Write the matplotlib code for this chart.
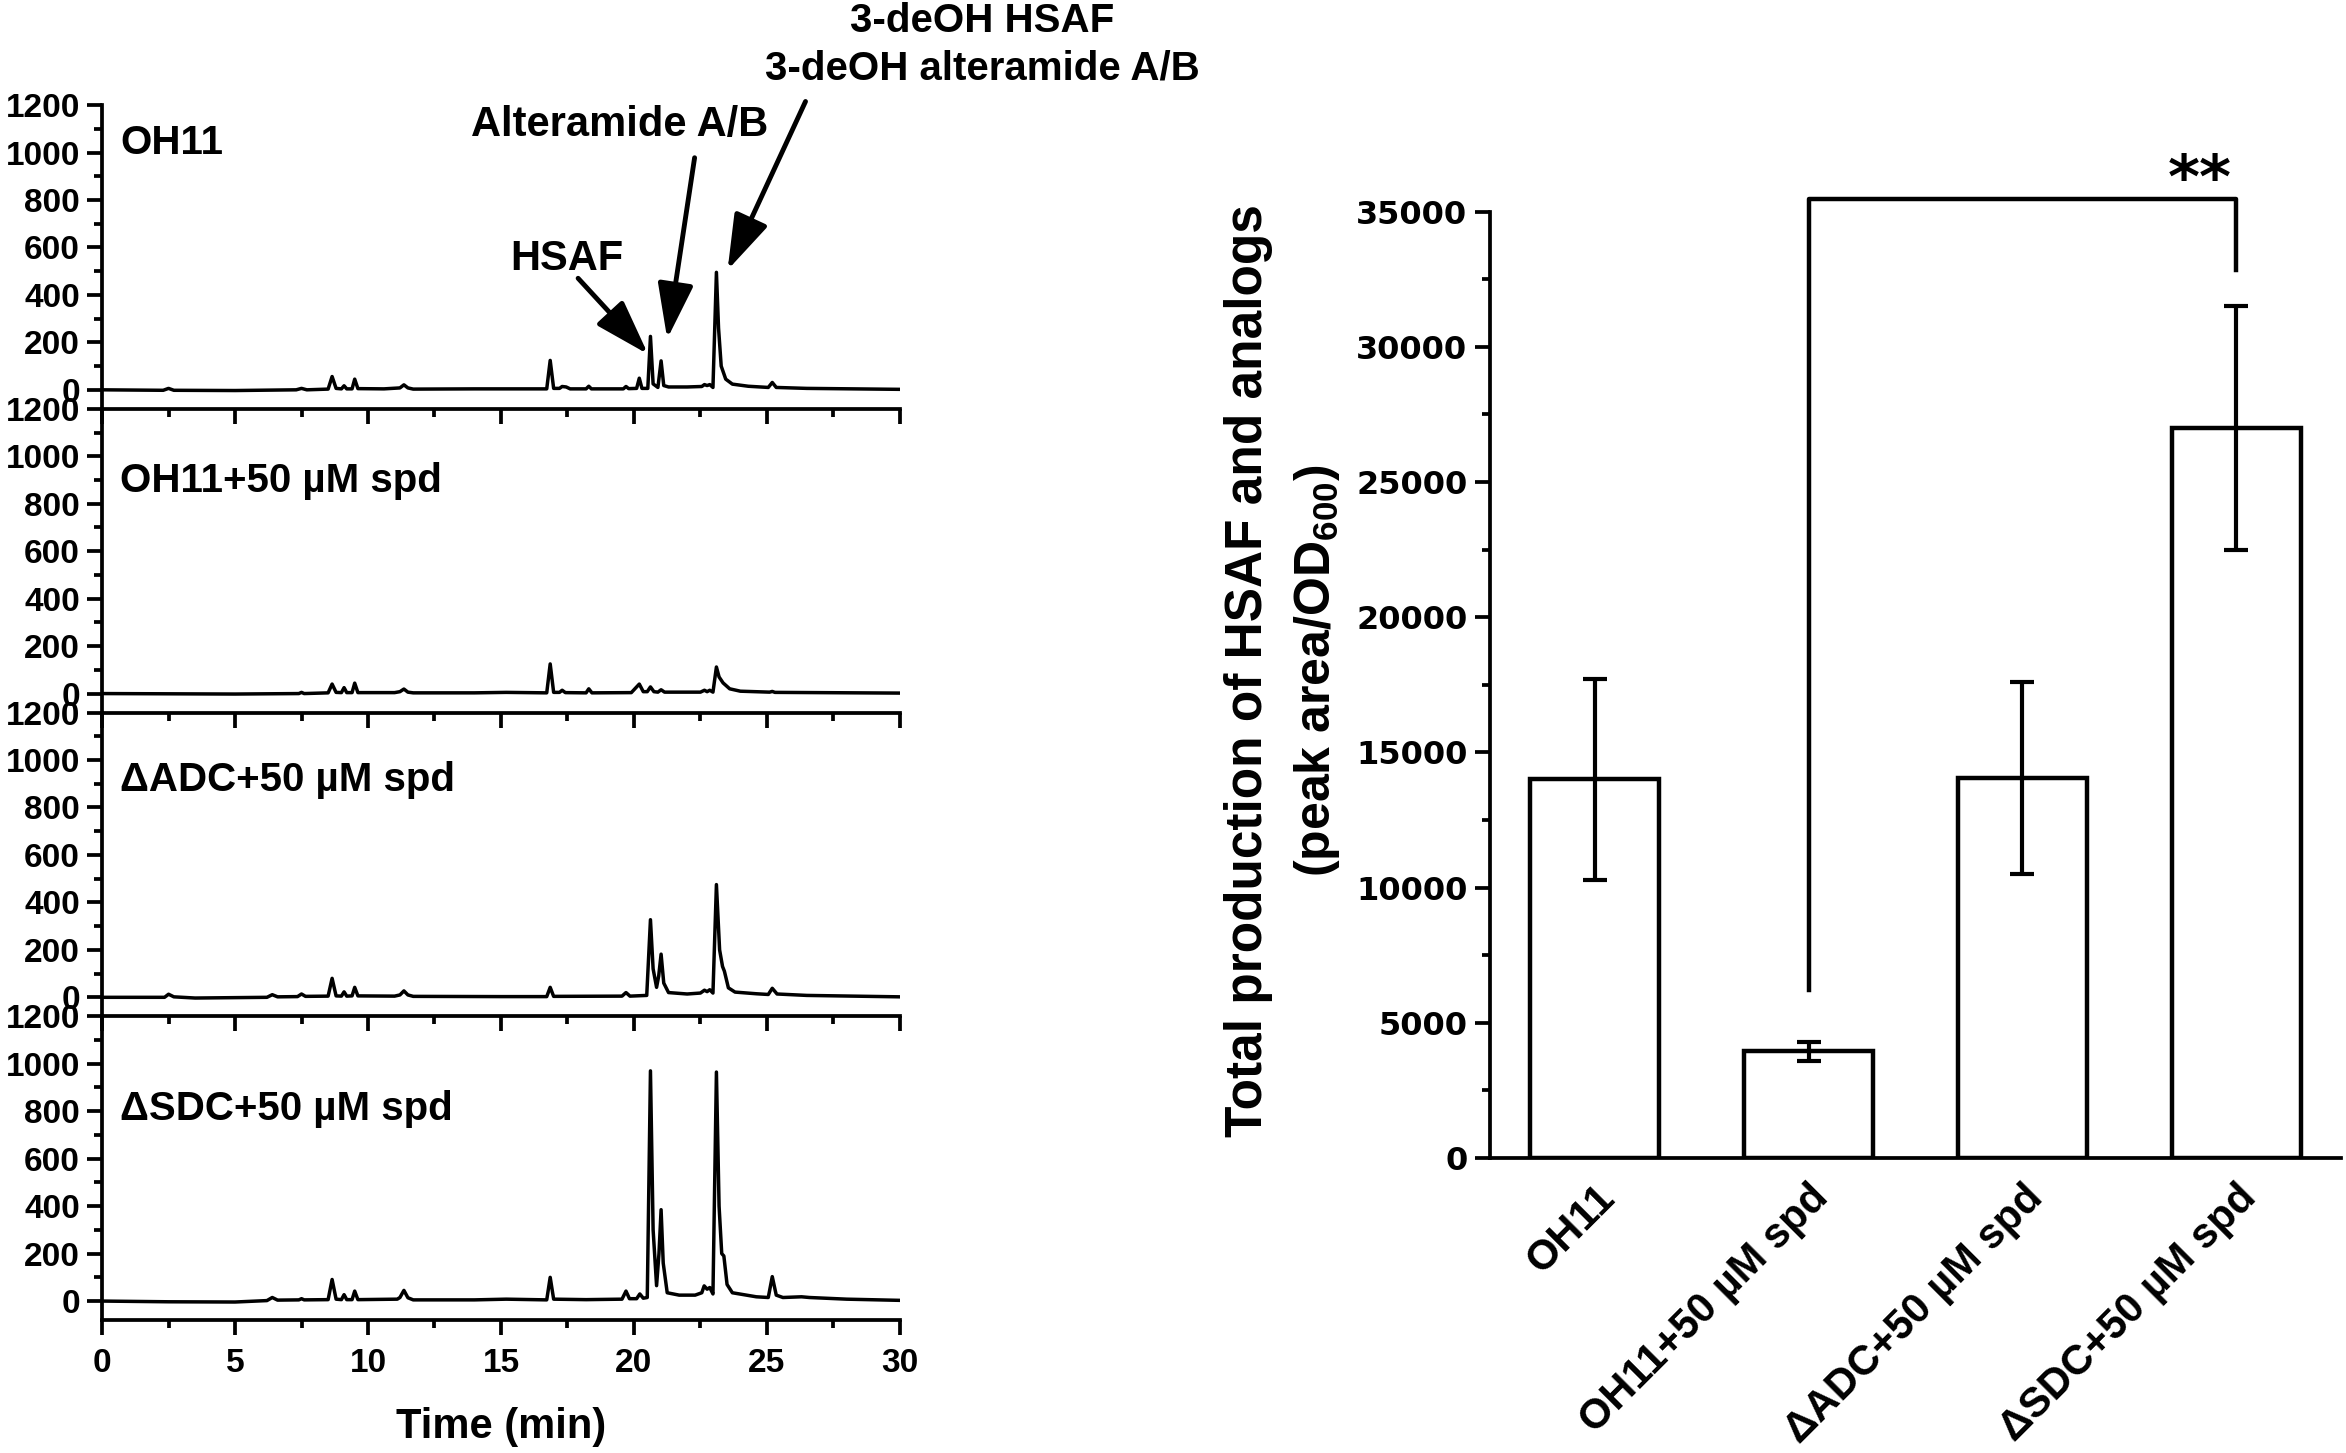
import matplotlib
matplotlib.use('Agg')
import matplotlib.pyplot as plt
from matplotlib.ticker import MultipleLocator

plt.rcParams['font.family'] = ['Liberation Sans', 'DejaVu Sans']
plt.rcParams['font.weight'] = 'bold'
plt.rcParams['mathtext.default'] = 'regular'

# HPLC traces: (retention time in min, signal)
oh11 = [(0.0, 0), (2.3, -2), (2.5, 6), (2.7, -2), (5.0, -3), (7.3, 0), (7.5, 6), (7.7, 0),
        (8.5, 3), (8.65, 56), (8.8, 6), (9.0, 4), (9.1, 17), (9.2, 4), (9.4, 4), (9.5, 45), (9.62, 5),
        (10.6, 4), (11.2, 8), (11.35, 21), (11.5, 8), (11.7, 3), (14.0, 4), (16.72, 4), (16.85, 124),
        (16.98, 6), (17.2, 6), (17.3, 14), (17.45, 12), (17.6, 4), (18.2, 4), (18.3, 15), (18.4, 4),
        (19.6, 4), (19.7, 14), (19.8, 5), (20.1, 6), (20.2, 49), (20.3, 6), (20.52, 6), (20.62, 225),
        (20.72, 25), (20.9, 10), (21.02, 122), (21.12, 18), (21.3, 12), (22.0, 12), (22.55, 14),
        (22.65, 22), (22.75, 18), (22.85, 22), (22.97, 10), (23.1, 495), (23.18, 260), (23.28, 100),
        (23.45, 45), (23.7, 24), (24.3, 15), (25.05, 10), (25.2, 31), (25.35, 10), (26.5, 6), (30.0, 2)]

oh11_spd = [(0.0, 0), (5.0, -2), (7.4, 0), (7.5, 5), (7.6, 0), (8.5, 3), (8.65, 40), (8.8, 5),
            (9.0, 4), (9.1, 25), (9.2, 4), (9.4, 4), (9.5, 44), (9.62, 4), (11.0, 4), (11.2, 8),
            (11.35, 19), (11.5, 6), (11.7, 3), (14.0, 3), (15.2, 5), (16.72, 3), (16.85, 125),
            (16.98, 5), (17.2, 5), (17.3, 14), (17.42, 4), (18.2, 3), (18.3, 20), (18.42, 3),
            (19.9, 4), (20.2, 40), (20.35, 8), (20.5, 8), (20.62, 28), (20.75, 8), (20.9, 6),
            (21.02, 16), (21.15, 6), (22.5, 6), (22.65, 14), (22.75, 8), (22.85, 14), (22.97, 6),
            (23.1, 112), (23.2, 70), (23.35, 45), (23.6, 20), (24.0, 10), (25.1, 6), (25.2, 9),
            (25.3, 5), (30.0, 2)]

adc_spd = [(0.0, 0), (2.35, 0), (2.5, 13), (2.7, 2), (3.5, -3), (6.2, 0), (6.4, 11), (6.6, 2),
           (7.35, 3), (7.5, 14), (7.65, 4), (8.5, 5), (8.65, 80), (8.8, 6), (9.0, 5), (9.1, 23),
           (9.2, 5), (9.4, 6), (9.5, 42), (9.62, 6), (11.0, 5), (11.2, 10), (11.35, 27), (11.5, 10),
           (11.7, 4), (15.0, 3), (16.72, 3), (16.85, 42), (16.98, 4), (19.55, 5), (19.7, 20),
           (19.85, 5), (20.48, 8), (20.62, 327), (20.72, 120), (20.85, 42), (20.93, 90), (21.02, 182),
           (21.12, 60), (21.3, 20), (22.0, 14), (22.5, 18), (22.65, 30), (22.75, 24), (22.85, 32),
           (22.97, 18), (23.1, 475), (23.22, 200), (23.33, 130), (23.4, 110), (23.55, 40), (23.8, 22),
           (24.6, 15), (25.05, 12), (25.2, 38), (25.38, 14), (26.5, 8), (30.0, 2)]

sdc_spd = [(0.0, 0), (2.5, -3), (5.0, -4), (6.2, 2), (6.4, 15), (6.6, 4), (7.4, 5), (7.5, 10),
           (7.6, 5), (8.5, 6), (8.65, 91), (8.8, 8), (9.0, 6), (9.1, 27), (9.2, 6), (9.4, 6), (9.5, 42),
           (9.62, 6), (11.1, 8), (11.2, 15), (11.35, 45), (11.5, 14), (11.7, 5), (14.0, 5), (15.2, 8),
           (16.72, 5), (16.85, 100), (16.98, 8), (18.2, 6), (19.55, 8), (19.7, 42), (19.83, 10),
           (20.1, 10), (20.22, 30), (20.35, 12), (20.5, 15), (20.62, 970), (20.72, 300), (20.85, 65),
           (20.94, 200), (21.02, 385), (21.1, 160), (21.25, 35), (21.7, 25), (22.3, 25), (22.55, 35),
           (22.64, 64), (22.75, 50), (22.85, 57), (22.97, 30), (23.1, 965), (23.2, 400), (23.3, 200),
           (23.38, 190), (23.5, 70), (23.7, 35), (24.6, 18), (25.05, 15), (25.2, 103), (25.35, 25),
           (25.6, 15), (26.3, 18), (26.6, 15), (28.0, 8), (30.0, 3)]

traces = [oh11, oh11_spd, adc_spd, sdc_spd]
trace_labels = ['OH11', 'OH11+50 µM spd', 'ΔADC+50 µM spd', 'ΔSDC+50 µM spd']
label_y = [995, 850, 870, 765]

# bar chart
groups = ['OH11', 'OH11+50 µM spd', 'ΔADC+50 µM spd', 'ΔSDC+50 µM spd']
totals = [14000, 3950, 14050, 27000]
errors = [3700, 350, 3550, 4500]

fig = plt.figure(figsize=(23.46, 14.53), dpi=100)
gs = fig.add_gridspec(4, 1, left=0.0435, right=0.3836, top=0.9277, bottom=0.0915, hspace=0)

axes = []
for i, (tr, lab, ly) in enumerate(zip(traces, trace_labels, label_y)):
    ax = fig.add_subplot(gs[i])
    ax.set_facecolor('none')
    t = [p[0] for p in tr]
    s = [p[1] for p in tr]
    ax.plot(t, s, color='black', lw=2.5)
    ax.set_xlim(0, 30)
    ax.set_ylim(-80, 1200)
    ax.yaxis.set_major_locator(MultipleLocator(200))
    ax.yaxis.set_minor_locator(MultipleLocator(100))
    ax.xaxis.set_major_locator(MultipleLocator(5))
    ax.xaxis.set_minor_locator(MultipleLocator(2.5))
    for side in ['top', 'right']:
        ax.spines[side].set_visible(False)
    for side in ['left', 'bottom']:
        ax.spines[side].set_linewidth(2.7)
    ax.tick_params(which='major', length=11, width=2.7, labelsize=24)
    ax.tick_params(axis='y', which='major', pad=5)
    ax.tick_params(axis='x', which='major', pad=9)
    ax.tick_params(which='minor', length=6, width=2.7)
    if i < 3:
        ax.tick_params(labelbottom=False)
    ax.text(0.68, ly, lab, fontsize=29, fontweight='bold', va='baseline', ha='left')
    axes.append(ax)

axes[-1].set_xlabel('Time (min)', fontsize=30, fontweight='bold', labelpad=20)

# peak annotations on the OH11 trace
ax0 = axes[0]
arrow = dict(arrowstyle='-|>,head_length=1.7,head_width=0.55', color='black', lw=3.5,
             mutation_scale=20, shrinkA=0, shrinkB=0)
ax0.annotate('', xy=(20.53, 150), xytext=(17.9, 470), arrowprops=arrow, annotation_clip=False)
ax0.text(17.48, 552, 'HSAF', fontsize=30, ha='center', va='center')
ax0.annotate('', xy=(21.25, 215), xytext=(22.28, 978), arrowprops=arrow, annotation_clip=False)
ax0.text(19.46, 1118, 'Alteramide A/B', fontsize=30, ha='center', va='center')
ax0.annotate('', xy=(23.52, 505), xytext=(26.45, 1215), arrowprops=arrow, annotation_clip=False)
ax0.text(33.1, 1556, '3-deOH HSAF', fontsize=29, ha='center', va='center', clip_on=False)
ax0.text(33.1, 1352, '3-deOH alteramide A/B', fontsize=29, ha='center', va='center', clip_on=False)

# total production bars
ax2 = fig.add_axes([0.635, 0.203, 0.363, 0.6514])
ax2.set_facecolor('none')
xpos = list(range(len(groups)))
ax2.bar(xpos, totals, width=0.6, color='white', edgecolor='black', linewidth=3.2,
        yerr=errors, capsize=8.5,
        error_kw=dict(elinewidth=3, capthick=3, ecolor='black'))
ax2.set_xlim(-0.49, 3.49)
ax2.set_ylim(0, 35000)
ax2.yaxis.set_major_locator(MultipleLocator(5000))
ax2.yaxis.set_minor_locator(MultipleLocator(2500))
for side in ['top', 'right']:
    ax2.spines[side].set_visible(False)
for side in ['left', 'bottom']:
    ax2.spines[side].set_linewidth(2.7)
ax2.tick_params(axis='y', which='major', length=11, width=2.7, pad=5)
ax2.tick_params(axis='y', which='minor', length=6, width=2.7)
ax2.tick_params(axis='x', length=0, pad=14)
ax2.set_xticks(xpos)
ax2.set_xticklabels(groups, rotation=45, ha='right', va='top', rotation_mode='anchor',
                    fontsize=30, fontweight='bold')
for lab in ax2.get_yticklabels():
    lab.set_family('DejaVu Sans')
    lab.set_fontweight('bold')
    lab.set_fontsize(23)
ax2.text(-0.2836, 0.515, 'Total production of HSAF and analogs', transform=ax2.transAxes,
         rotation=90, ha='center', va='center', fontsize=37, fontweight='bold')
ax2.text(-0.2026, 0.515, '(peak area/OD$_{600}$)', transform=ax2.transAxes,
         rotation=90, ha='center', va='center', fontsize=36, fontweight='bold')

# significance bracket
ax2.plot([1, 1, 3, 3], [6200, 35450, 35450, 32850], color='black', lw=3.2, clip_on=False)
ax2.text(2.83, 36100, '**', fontsize=44, ha='center', va='center',
         family='DejaVu Sans', fontweight='bold')

fig.savefig('out.png', dpi=100)
